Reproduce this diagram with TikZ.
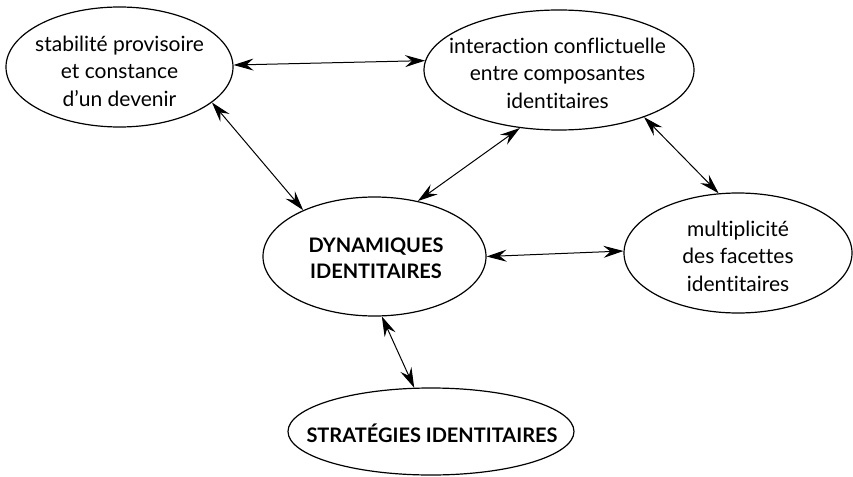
\documentclass[tikz,border=0pt]{standalone}
\usepackage{fontspec}
\setmainfont{Lato}[Ligatures={NoCommon}]
\usetikzlibrary{shapes.geometric,arrows.meta}
\begin{document}
\begin{tikzpicture}[x=1pt,y=-1pt,
  bub/.style={ellipse,draw,line width=1.2pt,inner sep=0pt},
  txt/.style={inner sep=0pt,align=center,font=\fontsize{21}{27.5}\selectfont},
  boldtxt/.style={inner sep=0pt,align=center,font=\fontsize{20}{26}\selectfont\bfseries},
  conn/.style={line width=1pt,
    {Stealth[length=20pt,width=12pt,inset=7pt]}-{Stealth[length=20pt,width=12pt,inset=7pt]}}]
\useasboundingbox[fill=white] (0,0) rectangle (853,476);
% ellipses
\node[bub,minimum width=227pt,minimum height=120pt] (n1) at (119.5,67) {};
\node[bub,minimum width=270pt,minimum height=120pt] (n2) at (559,70) {};
\node[bub,minimum width=223pt,minimum height=119pt] (n3) at (374.5,256.5) {};
\node[bub,minimum width=228pt,minimum height=120pt] (n4) at (738,253) {};
\node[bub,minimum width=286pt,minimum height=87pt] (n5) at (431,431.5) {};
% texts
\node[txt] (t1) at (119.5,71) {stabilité provisoire\\et constance\\d’un devenir};
\node[txt] (t2) at (557.5,73) {interaction conflictuelle\\entre composantes\\identitaires};
\node[boldtxt] (t3) at (376,258) {DYNAMIQUES\\IDENTITAIRES};
\node[txt] (t4) at (738,256) {multiplicité\\des facettes\\identitaires};
\node[boldtxt] (t5) at (432,433) {STRATÉGIES IDENTITAIRES};
% connectors
\draw[conn] (n1.1) -- (n2.176.7);
\draw[conn] (n1.-21.7) -- (n3.147.4);
\draw[conn] (n2.-124.6) -- (n3.52.4);
\draw[conn] (n2.-29.5) -- (n4.108);
\draw[conn] (n3.-0.8) -- (n4.179);
\draw[conn] (n3.-83) -- (n5.111);
\end{tikzpicture}
\end{document}
